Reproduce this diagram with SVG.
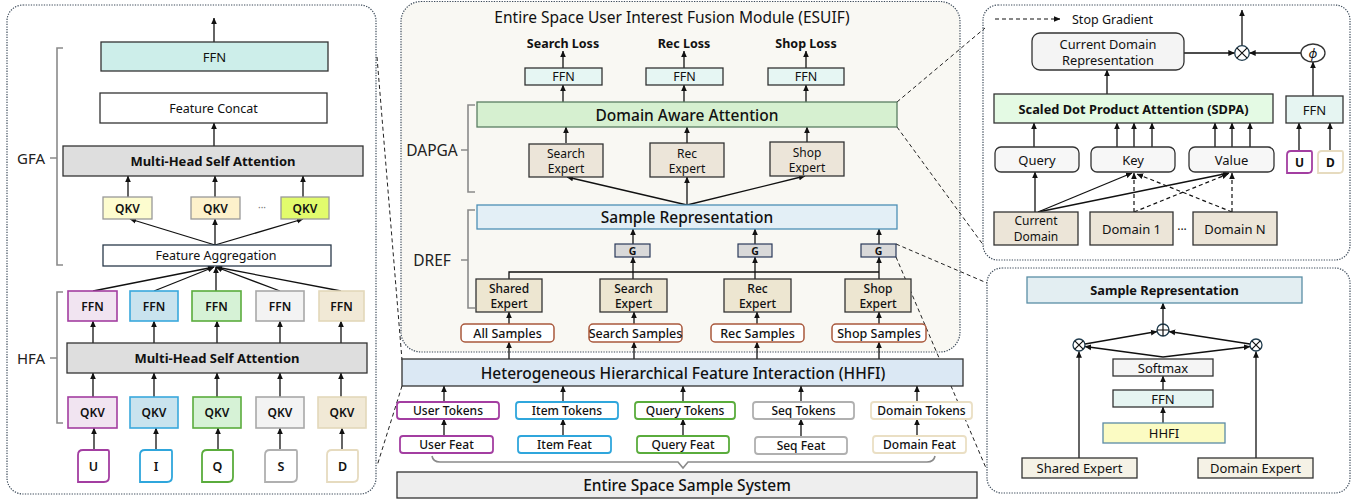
<svg xmlns="http://www.w3.org/2000/svg" width="1367" height="502" viewBox="0 0 1367 502">
<defs>
<marker id="ah" viewBox="0 0 10 10" refX="9.5" refY="5" markerWidth="6.5" markerHeight="6.5" markerUnits="userSpaceOnUse" orient="auto"><path d="M0,0.5 L10,5 L0,9.5 z" fill="#111"/></marker>
<style>
text{font-family:"Noto Sans","Open Sans","DejaVu Sans",sans-serif;fill:#111;text-anchor:middle;dominant-baseline:central;font-size:13px}
.b{font-weight:700}
.m{font-weight:600}
.md{font-weight:500}
.box{stroke:#333;stroke-width:1.3}
.panel{stroke:#3d4b5a;stroke-width:1.2;stroke-dasharray:1.3 1.3}
.ar{fill:none;stroke:#111;stroke-width:1.3;marker-end:url(#ah)}
.ard{fill:none;stroke:#111;stroke-width:1.2;stroke-dasharray:4 3;marker-end:url(#ah)}
.ln{fill:none;stroke:#111;stroke-width:1.3}
.dl{fill:none;stroke:#222;stroke-width:1;stroke-dasharray:4 3}
.brk{fill:none;stroke:#8a8a8a;stroke-width:1.6}
.pu{stroke:#a33ea1;fill:#f1e4f1;stroke-width:1.6}
.bl{stroke:#3aa8dc;fill:#c9e3ee;stroke-width:1.6}
.gr{stroke:#5aac3c;fill:#d6f2d6;stroke-width:1.6}
.gy{stroke:#a8a8a8;fill:#f3f3f3;stroke-width:1.6}
.be{stroke:#e3d8ba;fill:#f1e9d6;stroke-width:1.6}
.tok{fill:#fff;stroke-width:1.8}
.op{fill:#fff;stroke:#1f3b4d;stroke-width:1.3}
</style>
</defs>
<rect width="1367" height="502" fill="#fff"/>

<g id="panels">
<rect class="panel" x="7" y="5" width="369" height="489" rx="16" fill="#fff"/>
<rect class="panel" x="401" y="1.5" width="559" height="350.5" rx="20" fill="#f9f8f3"/>
<rect class="panel" x="983" y="5" width="367" height="255" rx="15" fill="#fff"/>
<rect class="panel" x="987" y="268" width="363" height="225" rx="15" fill="#fff"/>
</g>

<g id="connectors">
<path class="dl" d="M377,57 L402,360"/>
<path class="dl" d="M402,386 L377,466"/>
<path class="dl" d="M897,102 L985,28"/>
<path class="dl" d="M897,127 L984,246"/>
<path class="dl" d="M896,244 L987,283"/>
<path class="dl" d="M896,257 L986,468"/>
<path class="ar" d="M214,42 V18"/>
<path class="ar" d="M214,146 V123"/>
<path class="ar" d="M128,197 V176"/>
<path class="ar" d="M215,197 V176"/>
<path class="ar" d="M303,197 V176"/>
<path class="ar" d="M215,245 L130,219"/>
<path class="ar" d="M215,245 V219"/>
<path class="ar" d="M215,245 L303,219"/>
<path class="ar" d="M93,291 L214,267"/>
<path class="ar" d="M154,291 L214,267"/>
<path class="ar" d="M216,291 V267"/>
<path class="ar" d="M280,291 L216,267"/>
<path class="ar" d="M341,291 L216,267"/>
<path class="ar" d="M93,343 V321"/>
<path class="ar" d="M154,343 V321"/>
<path class="ar" d="M217,343 V321"/>
<path class="ar" d="M280,343 V321"/>
<path class="ar" d="M341,343 V321"/>
<path class="ar" d="M93,397 V373"/>
<path class="ar" d="M154,397 V373"/>
<path class="ar" d="M217,397 V373"/>
<path class="ar" d="M280,397 V373"/>
<path class="ar" d="M341,397 V373"/>
<path class="ar" d="M94,450 V428"/>
<path class="ar" d="M156,450 V428"/>
<path class="ar" d="M218,450 V428"/>
<path class="ar" d="M280,450 V428"/>
<path class="ar" d="M342,450 V428"/>
<path class="ar" d="M563,68 V51"/>
<path class="ar" d="M684,68 V51"/>
<path class="ar" d="M806,68 V51"/>
<path class="ar" d="M563,102 V85"/>
<path class="ar" d="M684,102 V85"/>
<path class="ar" d="M806,102 V85"/>
<path class="ar" d="M566,143 V127"/>
<path class="ar" d="M687,143 V127"/>
<path class="ar" d="M807,142 V127"/>
<path class="ar" d="M687,205 L567,177"/>
<path class="ar" d="M687,205 V177"/>
<path class="ar" d="M687,205 L805,176"/>
<path class="ar" d="M633,244 V229"/>
<path class="ar" d="M755,244 V229"/>
<path class="ar" d="M879,244 V229"/>
<path class="ln" d="M509,279 V272 H879"/>
<path class="ar" d="M633,279 V257"/>
<path class="ar" d="M755,279 V257"/>
<path class="ar" d="M879,279 V257"/>
<path class="ar" d="M509,324 V312"/>
<path class="ar" d="M634,324 V312"/>
<path class="ar" d="M757,324 V312"/>
<path class="ar" d="M879,324 V312"/>
<path class="ar" d="M509,359 V342"/>
<path class="ar" d="M634,359 V342"/>
<path class="ar" d="M757,359 V342"/>
<path class="ar" d="M879,359 V342"/>
<path class="ar" d="M444,402 V386"/>
<path class="ar" d="M563,402 V386"/>
<path class="ar" d="M683,402 V386"/>
<path class="ar" d="M801,402 V386"/>
<path class="ar" d="M917,402 V386"/>
<path class="ar" d="M444,436 V419"/>
<path class="ar" d="M563,436 V419"/>
<path class="ar" d="M683,436 V419"/>
<path class="ar" d="M801,437 V419"/>
<path class="ar" d="M917,436 V419"/>
<path class="brk" d="M432,456 Q433,462 440,462 H678 L683,468 L688,462 H927 Q934,462 935,456" stroke="#9a9a9a"/>
<path class="ard" d="M995,19 H1060"/>
<path class="ar" d="M1242,45.7 V10"/>
<path class="ar" d="M1184,53 H1234.5"/>
<path class="ar" d="M1301,53 H1249.5"/>
<path class="ar" d="M1313,96 V62"/>
<path class="ar" d="M1299,151 V123"/>
<path class="ar" d="M1330,151 V123"/>
<path class="ar" d="M1107,94 V70"/>
<path class="ar" d="M1034,147 V123"/>
<path class="ar" d="M1117,147 V123"/>
<path class="ar" d="M1134,147 V123"/>
<path class="ar" d="M1152,147 V123"/>
<path class="ar" d="M1215,147 V123"/>
<path class="ar" d="M1232,147 V123"/>
<path class="ar" d="M1250,147 V123"/>
<path class="ar" d="M1035,212 V172"/>
<path class="ar" d="M1038,212 L1132,173"/>
<path class="ar" d="M1038,212 L1229,173"/>
<path class="ard" d="M1134,212 V173"/>
<path class="ard" d="M1134,212 L1228,174"/>
<path class="ard" d="M1232,212 V173"/>
<path class="ard" d="M1232,212 L1137,174"/>
<path class="ar" d="M1163,324 V303"/>
<path class="ar" d="M1085,344 L1157,331.5"/>
<path class="ar" d="M1250,344 L1169,331.5"/>
<path class="ar" d="M1163,357 L1085,346.5"/>
<path class="ar" d="M1163,357 L1250,346.5"/>
<path class="ar" d="M1163,390 V376"/>
<path class="ar" d="M1163,423 V407"/>
<path class="ar" d="M1079,458 V351.5"/>
<path class="ar" d="M1256,458 V351.5"/>
</g>

<g id="labels">
<path class="brk" d="M63,48 H57 V265 H63 M57,158 H50"/>
<text x="31" y="158" style="font-size:15px;fill:#222">GFA</text>
<path class="brk" d="M63,292 H57 V423 H63 M57,358 H50"/>
<text x="31" y="358" style="font-size:15px;fill:#222">HFA</text>
<path class="brk" d="M475,105 H468 V192 H475 M468,150 H461"/>
<text x="432" y="150" style="font-size:15.5px;fill:#222">DAPGA</text>
<path class="brk" d="M475,210 H468 V308 H475 M468,260 H461"/>
<text x="432" y="260" style="font-size:15.5px;fill:#222">DREF</text>
<text x="672" y="17" style="font-size:15.5px">Entire Space User Interest Fusion Module (ESUIF)</text>
<text x="563" y="43" class="b" style="font-size:12.5px">Search Loss</text>
<text x="684" y="43" class="b" style="font-size:12.5px">Rec Loss</text>
<text x="806" y="43" class="b" style="font-size:12.5px">Shop Loss</text>
<text x="1072" y="19" style="font-size:12.5px;text-anchor:start">Stop Gradient</text>
<text x="262" y="207" style="font-size:10px;fill:#777">···</text>
<text x="1182" y="229" style="font-size:12px">···</text>
</g>

<g id="gfa-ffn"><rect class="box" x="101" y="42" width="227" height="29" fill="#cdeeea"/><text x="214.5" y="56.5">FFN</text></g>
<g id="feature-concat"><rect class="box" x="100" y="93" width="227" height="30" fill="#fff"/><text x="213.5" y="108" style="font-size:12.5px">Feature Concat</text></g>
<g id="gfa-mhsa"><rect class="box" x="63" y="146" width="300" height="30" fill="#dedede"/><text x="213" y="161" class="b">Multi-Head Self Attention</text></g>
<g id="gfa-qkv1"><rect x="103" y="197" width="49" height="22" fill="#fdfccf" stroke="#999" stroke-width="1.3"/><text x="127.5" y="208" class="m" style="font-size:12px">QKV</text></g>
<g id="gfa-qkv2"><rect x="191" y="197" width="49" height="22" fill="#fdf1cb" stroke="#999" stroke-width="1.3"/><text x="215.5" y="208" class="m" style="font-size:12px">QKV</text></g>
<g id="gfa-qkv3"><rect x="281" y="197" width="48" height="22" fill="#e2fb6c" stroke="#999" stroke-width="1.3"/><text x="305" y="208" class="m" style="font-size:12px">QKV</text></g>
<g id="feature-aggregation"><rect x="103" y="245" width="228" height="21" fill="#fff" stroke="#2a3a4a" stroke-width="1.3"/><text x="216" y="255.5" style="font-size:12.5px">Feature Aggregation</text></g>

<g id="hfa-ffn1"><rect class="pu" x="68" y="291" width="49" height="30"/><text x="92.5" y="306" class="m" style="font-size:12px">FFN</text></g>
<g id="hfa-ffn2"><rect class="bl" x="130" y="291" width="48" height="30"/><text x="154" y="306" class="m" style="font-size:12px">FFN</text></g>
<g id="hfa-ffn3"><rect class="gr" x="192" y="291" width="49" height="30"/><text x="216.5" y="306" class="m" style="font-size:12px">FFN</text></g>
<g id="hfa-ffn4"><rect class="gy" x="256" y="291" width="48" height="30"/><text x="280" y="306" class="m" style="font-size:12px">FFN</text></g>
<g id="hfa-ffn5"><rect class="be" x="319" y="291" width="45" height="30"/><text x="341.5" y="306" class="m" style="font-size:12px">FFN</text></g>
<g id="hfa-mhsa"><rect class="box" x="67" y="343" width="300" height="30" fill="#dedede"/><text x="217" y="358" class="b">Multi-Head Self Attention</text></g>
<g id="hfa-qkv1"><rect class="pu" x="68" y="397" width="49" height="31"/><text x="92.5" y="412.5" class="m" style="font-size:12px">QKV</text></g>
<g id="hfa-qkv2"><rect class="bl" x="130" y="397" width="48" height="31"/><text x="154" y="412.5" class="m" style="font-size:12px">QKV</text></g>
<g id="hfa-qkv3"><rect class="gr" x="193" y="397" width="48" height="31"/><text x="217" y="412.5" class="m" style="font-size:12px">QKV</text></g>
<g id="hfa-qkv4"><rect class="gy" x="256" y="397" width="48" height="31"/><text x="280" y="412.5" class="m" style="font-size:12px">QKV</text></g>
<g id="hfa-qkv5"><rect class="be" x="318" y="397" width="48" height="31"/><text x="342" y="412.5" class="m" style="font-size:12px">QKV</text></g>
<g id="in-u"><path class="tok" stroke="#a33ea1" d="M83,450 H107.5 Q109,450 109,451.5 V477 Q109,482 104,482 H78 V455 Q78,450 83,450 Z"/><text x="93.5" y="466" class="m" style="font-size:12.5px">U</text></g>
<g id="in-i"><path class="tok" stroke="#2fa6dc" d="M145,450 H170.5 Q172,450 172,451.5 V477 Q172,482 167,482 H140 V455 Q140,450 145,450 Z"/><text x="156" y="466" class="m" style="font-size:12.5px">I</text></g>
<g id="in-q"><path class="tok" stroke="#5aac3c" d="M207,450 H231.5 Q233,450 233,451.5 V477 Q233,482 228,482 H202 V455 Q202,450 207,450 Z"/><text x="217.5" y="466" class="m" style="font-size:12.5px">Q</text></g>
<g id="in-s"><path class="tok" stroke="#b0b0b0" d="M270,450 H295.5 Q297,450 297,451.5 V477 Q297,482 292,482 H265 V455 Q265,450 270,450 Z"/><text x="281" y="466" class="m" style="font-size:12.5px">S</text></g>
<g id="in-d"><path class="tok" stroke="#e6dbbf" d="M332,450 H356.5 Q358,450 358,451.5 V477 Q358,482 353,482 H327 V455 Q327,450 332,450 Z"/><text x="342.5" y="466" class="m" style="font-size:12.5px">D</text></g>

<g id="ffn-search"><rect class="box" x="525" y="68" width="77" height="17" fill="#e6f6f3"/><text x="563.5" y="76.5" style="font-size:12.5px">FFN</text></g>
<g id="ffn-rec"><rect class="box" x="646" y="68" width="77" height="17" fill="#e6f6f3"/><text x="684.5" y="76.5" style="font-size:12.5px">FFN</text></g>
<g id="ffn-shop"><rect class="box" x="768" y="68" width="76" height="17" fill="#e6f6f3"/><text x="806" y="76.5" style="font-size:12.5px">FFN</text></g>
<g id="domain-aware-attention"><rect x="477" y="102" width="420" height="25" fill="#d6f0d0" stroke="#5a7d62" stroke-width="1.3"/><text x="687" y="114.5" class="md" style="font-size:15.5px">Domain Aware Attention</text></g>
<g id="dapga-search"><rect class="box" x="529" y="144" width="74" height="33" fill="#ece5d9"/><text x="566" y="153" style="font-size:12px">Search</text><text x="566" y="168" style="font-size:12px">Expert</text></g>
<g id="dapga-rec"><rect class="box" x="650" y="143" width="74" height="34" fill="#ece5d9"/><text x="687" y="153" style="font-size:12px">Rec</text><text x="687" y="168" style="font-size:12px">Expert</text></g>
<g id="dapga-shop"><rect class="box" x="770" y="142" width="74" height="34" fill="#ece5d9"/><text x="807" y="152" style="font-size:12px">Shop</text><text x="807" y="167" style="font-size:12px">Expert</text></g>
<g id="sample-representation"><rect x="477" y="205" width="420" height="24" fill="#e3eff6" stroke="#4d8fb5" stroke-width="1.3"/><text x="687" y="217" class="md" style="font-size:15.5px">Sample Representation</text></g>
<g id="g1"><rect x="615" y="244" width="35" height="13" fill="#d9d9d9" stroke="#2a3a5a" stroke-width="1.2"/><text x="632.5" y="250.5" class="b" style="font-size:10.5px">G</text></g>
<g id="g2"><rect x="738" y="244" width="34" height="13" fill="#d9d9d9" stroke="#2a3a5a" stroke-width="1.2"/><text x="755" y="250.5" class="b" style="font-size:10.5px">G</text></g>
<g id="g3"><rect x="861" y="244" width="35" height="13" fill="#d9d9d9" stroke="#2a3a5a" stroke-width="1.2"/><text x="878.5" y="250.5" class="b" style="font-size:10.5px">G</text></g>
<g id="dref-shared"><rect class="box" x="476" y="279" width="66" height="33" fill="#ede6d1"/><text x="509" y="288" class="md" style="font-size:12px">Shared</text><text x="509" y="303.5" class="md" style="font-size:12px">Expert</text></g>
<g id="dref-search"><rect class="box" x="600" y="279" width="67" height="33" fill="#ede6d1"/><text x="633.5" y="288" class="md" style="font-size:12px">Search</text><text x="633.5" y="303.5" class="md" style="font-size:12px">Expert</text></g>
<g id="dref-rec"><rect class="box" x="724" y="279" width="67" height="33" fill="#ede6d1"/><text x="757.5" y="288" class="md" style="font-size:12px">Rec</text><text x="757.5" y="303.5" class="md" style="font-size:12px">Expert</text></g>
<g id="dref-shop"><rect class="box" x="845" y="279" width="66" height="33" fill="#ede6d1"/><text x="878" y="288" class="md" style="font-size:12px">Shop</text><text x="878" y="303.5" class="md" style="font-size:12px">Expert</text></g>
<g id="all-samples"><rect x="461" y="324" width="93" height="18" rx="4" fill="#fff" stroke="#a9583c" stroke-width="1.5"/><text x="507.5" y="333" class="md" style="font-size:12.5px">All Samples</text></g>
<g id="search-samples"><rect x="589" y="324" width="93" height="18" rx="4" fill="#fff" stroke="#a9583c" stroke-width="1.5"/><text x="635.5" y="333" class="md" style="font-size:12.5px">Search Samples</text></g>
<g id="rec-samples"><rect x="711" y="324" width="93" height="18" rx="4" fill="#fff" stroke="#a9583c" stroke-width="1.5"/><text x="757.5" y="333" class="md" style="font-size:12.5px">Rec Samples</text></g>
<g id="shop-samples"><rect x="832" y="324" width="94" height="18" rx="4" fill="#fff" stroke="#a9583c" stroke-width="1.5"/><text x="879" y="333" class="md" style="font-size:12.5px">Shop Samples</text></g>
<g id="hhfi"><rect class="box" x="402" y="359" width="561" height="27" fill="#dbe8f4"/><text x="683" y="372.5" class="md" style="font-size:15.5px">Heterogeneous Hierarchical Feature Interaction (HHFI)</text></g>
<g id="user-tokens"><rect class="tok" stroke="#a33ea1" x="397" y="402" width="102" height="17" rx="3"/><text x="448" y="410.5" class="md" style="font-size:12px">User Tokens</text></g>
<g id="item-tokens"><rect class="tok" stroke="#2fa6dc" x="516" y="402" width="102" height="17" rx="3"/><text x="567" y="410.5" class="md" style="font-size:12px">Item Tokens</text></g>
<g id="query-tokens"><rect class="tok" stroke="#5aac3c" x="635" y="402" width="100" height="17" rx="3"/><text x="685" y="410.5" class="md" style="font-size:12px">Query Tokens</text></g>
<g id="seq-tokens"><rect class="tok" stroke="#b0b0b0" x="753" y="402" width="101" height="17" rx="3"/><text x="803.5" y="410.5" class="md" style="font-size:12px">Seq Tokens</text></g>
<g id="domain-tokens"><rect class="tok" stroke="#eadfc4" x="871" y="402" width="101" height="17" rx="3"/><text x="921.5" y="410.5" class="md" style="font-size:12px">Domain Tokens</text></g>
<g id="user-feat"><rect class="tok" stroke="#a33ea1" x="400" y="436" width="93" height="17" rx="3"/><text x="446.5" y="444.5" class="md" style="font-size:12px">User Feat</text></g>
<g id="item-feat"><rect class="tok" stroke="#2fa6dc" x="518" y="436" width="93" height="17" rx="3"/><text x="564.5" y="444.5" class="md" style="font-size:12px">Item Feat</text></g>
<g id="query-feat"><rect class="tok" stroke="#5aac3c" x="637" y="436" width="92" height="17" rx="3"/><text x="683" y="444.5" class="md" style="font-size:12px">Query Feat</text></g>
<g id="seq-feat"><rect class="tok" stroke="#b0b0b0" x="755" y="437" width="92" height="17" rx="3"/><text x="801" y="445.5" class="md" style="font-size:12px">Seq Feat</text></g>
<g id="domain-feat"><rect class="tok" stroke="#eadfc4" x="873" y="436" width="93" height="17" rx="3"/><text x="919.5" y="444.5" class="md" style="font-size:12px">Domain Feat</text></g>
<g id="entire-space-sample-system"><rect class="box" x="397" y="472" width="580" height="26" fill="#eeeeee"/><text x="687" y="485" class="md" style="font-size:15.5px">Entire Space Sample System</text></g>

<g id="current-domain-representation"><rect class="box" x="1032" y="33" width="152" height="37" rx="8" fill="#f4f4f4"/><text x="1108" y="43.5" style="font-size:12.8px">Current Domain</text><text x="1108" y="60" style="font-size:12.8px">Representation</text></g>
<g id="mult-top"><circle class="op" cx="1242" cy="53" r="7.3"/><path d="M1236.8,47.8 L1247.2,58.2 M1247.2,47.8 L1236.8,58.2" stroke="#111" stroke-width="1.2"/></g>
<g id="phi"><ellipse cx="1313" cy="53" rx="12" ry="9" fill="#fff" stroke="#333" stroke-width="1.3"/><text x="1313" y="53" style="font-style:italic;font-size:13px">ϕ</text></g>
<g id="ffn-gate"><rect class="box" x="1286" y="96" width="57" height="27" fill="#e6f5f2"/><text x="1314.5" y="109.5">FFN</text></g>
<g id="gate-u"><path class="tok" stroke="#a33ea1" d="M1291,151 H1310.5 Q1312,151 1312,152.5 V169 Q1312,173 1308,173 H1287 V155 Q1287,151 1291,151 Z"/><text x="1299.5" y="162" class="b" style="font-size:12px">U</text></g>
<g id="gate-d"><path class="tok" stroke="#e6dbbf" d="M1322,151 H1341.5 Q1343,151 1343,152.5 V169 Q1343,173 1339,173 H1318 V155 Q1318,151 1322,151 Z"/><text x="1330.5" y="162" class="b" style="font-size:12px">D</text></g>
<g id="sdpa"><rect class="box" x="994" y="94" width="279" height="29" fill="#e4fae4"/><text x="1133.5" y="108.5" class="b" style="font-size:12.8px">Scaled Dot Product Attention (SDPA)</text></g>
<g id="query"><rect class="box" x="995" y="147" width="84" height="25" rx="6" fill="#f7f7f7"/><text x="1037" y="159.5">Query</text></g>
<g id="key"><rect class="box" x="1091" y="147" width="84" height="25" rx="6" fill="#f7f7f7"/><text x="1133" y="159.5">Key</text></g>
<g id="value"><rect class="box" x="1189" y="147" width="85" height="25" rx="6" fill="#f7f7f7"/><text x="1231.5" y="159.5">Value</text></g>
<g id="current-domain"><rect class="box" x="994" y="212" width="84" height="33" fill="#ece5d8"/><text x="1036" y="220.5" style="font-size:12px">Current</text><text x="1036" y="236.5" style="font-size:12px">Domain</text></g>
<g id="domain-1"><rect class="box" x="1090" y="212" width="83" height="33" fill="#ece5d8"/><text x="1131.5" y="228.5">Domain 1</text></g>
<g id="domain-n"><rect class="box" x="1193" y="212" width="84" height="33" fill="#ece5d8"/><text x="1235" y="228.5">Domain N</text></g>

<g id="gate-sample-representation"><rect x="1027" y="277" width="275" height="26" fill="#e3eef2" stroke="#5a8ea5" stroke-width="1.3"/><text x="1164.5" y="290" class="b" style="font-size:12.8px">Sample Representation</text></g>
<g id="plus"><circle class="op" cx="1163" cy="330" r="6"/><path d="M1157,330 H1169 M1163,324 V336" stroke="#111" stroke-width="1.2"/></g>
<g id="mult-left"><circle class="op" cx="1079" cy="345" r="6"/><path d="M1074.8,340.8 L1083.2,349.2 M1083.2,340.8 L1074.8,349.2" stroke="#111" stroke-width="1.2"/></g>
<g id="mult-right"><circle class="op" cx="1256" cy="345" r="6"/><path d="M1251.8,340.8 L1260.2,349.2 M1260.2,340.8 L1251.8,349.2" stroke="#111" stroke-width="1.2"/></g>
<g id="softmax"><rect class="box" x="1113" y="359" width="100" height="17" fill="#f5f5f5"/><text x="1163" y="367.5">Softmax</text></g>
<g id="gate-ffn"><rect class="box" x="1113" y="390" width="100" height="17" fill="#e6f5f2"/><text x="1163" y="398.5">FFN</text></g>
<g id="gate-hhfi"><rect x="1103" y="423" width="122" height="20" fill="#fbfbc3" stroke="#5a8aa5" stroke-width="1.3"/><text x="1164" y="433">HHFI</text></g>
<g id="shared-expert"><rect class="box" x="1022" y="458" width="115" height="20" fill="#f5f2e6"/><text x="1079.5" y="468">Shared Expert</text></g>
<g id="domain-expert"><rect class="box" x="1198" y="458" width="115" height="20" fill="#f5f2e6"/><text x="1255.5" y="468">Domain Expert</text></g>
</svg>
